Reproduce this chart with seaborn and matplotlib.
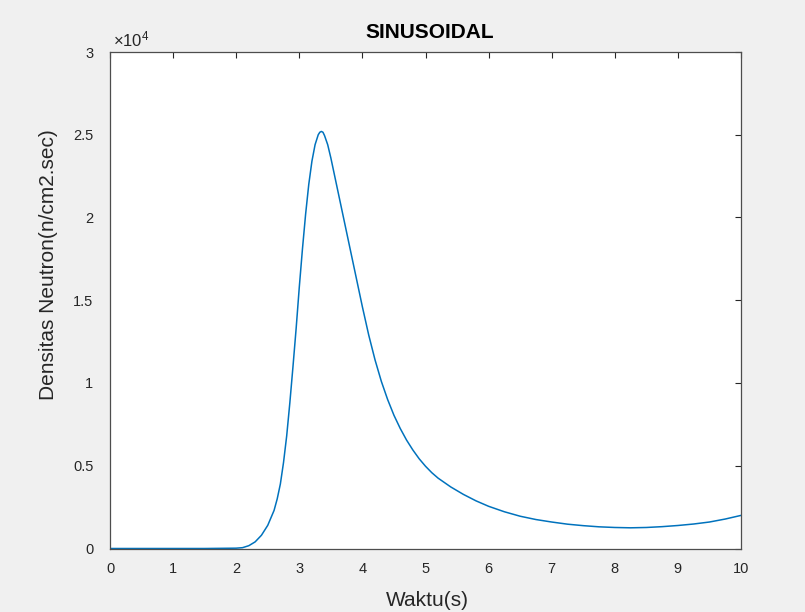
import matplotlib
matplotlib.use("Agg")
import matplotlib.pyplot as plt
import seaborn as sns
import pandas as pd

# Data (time in s, density in n/cm2.sec)
waktu = [0.0, 0.5, 1.0, 1.5, 2.0, 2.1, 2.2, 2.3, 2.4, 2.5, 2.6, 2.65, 2.7,
         2.75, 2.8, 2.85, 2.9, 2.95, 3.0, 3.05, 3.1, 3.15, 3.2, 3.25, 3.3,
         3.325, 3.35, 3.375, 3.4, 3.45, 3.5, 3.55, 3.6, 3.7, 3.8, 3.9, 4.0,
         4.1, 4.2, 4.3, 4.4, 4.5, 4.6, 4.7, 4.8, 4.9, 5.0, 5.1, 5.2, 5.4,
         5.6, 5.8, 6.0, 6.25, 6.5, 6.75, 7.0, 7.25, 7.5, 7.75, 8.0, 8.25,
         8.5, 8.75, 9.0, 9.25, 9.5, 9.75, 10.0]
densitas = [0, 0, 0, 0, 20, 50, 170, 400, 800, 1400, 2300, 3000, 3900,
            5200, 6800, 8800, 11000, 13300, 15800, 18100, 20200, 22000, 23400, 24400, 25000,
            25150, 25200, 25150, 24950, 24400, 23600, 22700, 21800, 20000, 18200, 16400, 14600,
            12900, 11400, 10100, 9000, 8050, 7250, 6550, 5950, 5420, 4970, 4580, 4250, 3720,
            3270, 2880, 2550, 2220, 1950, 1750, 1600, 1470, 1380, 1310, 1270, 1250,
            1270, 1320, 1390, 1480, 1600, 1780, 2000]

xticks = list(range(0, 11))
yticks = [0, 5000, 10000, 15000, 20000, 25000, 30000]
ytick_labels = ["0", "0.5", "1", "1.5", "2", "2.5", "3"]
xtick_labels = [str(v) for v in xticks]

df = pd.DataFrame({"Waktu": waktu, "Densitas": densitas})

sns.set_style("white")
plt.rcParams["font.family"] = ["Liberation Sans", "DejaVu Sans"]
plt.rcParams["mathtext.fontset"] = "custom"
plt.rcParams["mathtext.rm"] = "Liberation Sans"
plt.rcParams["mathtext.it"] = "Liberation Sans"

fig = plt.figure(figsize=(8.05, 6.12), dpi=100, facecolor="#f0f0f0")
ax = fig.add_axes([110 / 805, 1 - 548.5 / 612, 631 / 805, 496.5 / 612])
ax.set_facecolor("white")

sns.lineplot(data=df, x="Waktu", y="Densitas", ax=ax, color="#0072BD",
             linewidth=1.1, estimator=None, sort=False)

ax.set_xlim(0, 10)
ax.set_ylim(0, 30000)
ax.set_xticks(xticks)
ax.set_xticklabels(xtick_labels)
ax.set_yticks(yticks)
ax.set_yticklabels(ytick_labels)

txt_col = "#262626"
for s in ax.spines.values():
    s.set_visible(True)
    s.set_color("#4d4d4d")
    s.set_linewidth(0.9)

ax.tick_params(axis="both", which="both", direction="in", length=4.5, width=0.8,
               color="#262626", labelsize=10.5, labelcolor=txt_col,
               top=True, right=True)
ax.tick_params(axis="x", pad=10)
ax.tick_params(axis="y", pad=12)

ax.set_xlabel("Waktu(s)", fontsize=15, color=txt_col)
ax.set_ylabel("Densitas Neutron(n/cm2.sec)", fontsize=15, color=txt_col)
ax.xaxis.label.set_va("center")
ax.yaxis.label.set_va("center")
ax.xaxis.set_label_coords((427 - 110) / 631, (548.5 - 601) / 496.5)
ax.yaxis.set_label_coords((48 - 110) / 631, (548.5 - 265) / 496.5)

fig.text(430 / 805, 1 - 33 / 612, "SINUSOIDAL", fontsize=15, fontweight="bold",
         color="black", ha="center", va="center")

ax.text(0.004, 1.006, r"$\times10^{4}$", transform=ax.transAxes, ha="left",
        va="bottom", fontsize=12, color=txt_col)

fig.savefig("out.png", dpi=100, facecolor=fig.get_facecolor())
